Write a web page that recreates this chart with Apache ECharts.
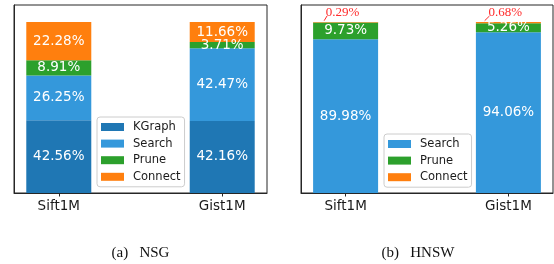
<!DOCTYPE html>
<html>
<head>
<meta charset="utf-8">
<script src="https://cdn.jsdelivr.net/npm/echarts@6/dist/echarts.min.js"></script>
<style>
html, body { margin: 0; padding: 0; background: #fff; }
#chart { width: 554px; height: 264px; }
</style>
</head>
<body>
<div id="chart"></div>
<script>
// data
var categories = ['Sift1M', 'Gist1M'];
var nsgKGraph = [42.56, 42.16];
var nsgSearch = [26.25, 42.47];
var nsgPrune = [8.91, 3.71];
var nsgConnect = [22.28, 11.66];
var hnswSearch = [89.98, 94.06];
var hnswPrune = [9.73, 5.26];
var hnswConnect = [0.29, 0.68];
var captions = ['(a)   NSG', '(b)   HNSW'];

var colors = {
    KGraph: '#1f77b4',
    Search: '#3498db',
    Prune: '#2ca02c',
    Connect: '#ff7f0e'
};

var SANS = 'DejaVu Sans';
var SERIF = 'Liberation Serif';

// value first so the stack runs along y; x (position) second
function pts(vals) {
    return vals.map(function (v, i) { return [v, i]; });
}

function pct(p) {
    return p.value[0].toFixed(2) + '%';
}

function barSeries(name, vals, gi, stack) {
    return {
        type: 'bar',
        name: name,
        xAxisIndex: gi,
        yAxisIndex: gi,
        stack: stack,
        barWidth: 65,
        encode: { x: 1, y: 0 },
        data: pts(vals),
        itemStyle: { color: colors[name] },
        label: {
            show: true,
            position: 'inside',
            color: '#fff',
            fontFamily: SANS,
            fontSize: 13.5,
            formatter: pct
        }
    };
}

// small red leader lines next to the tiny Connect labels (data space)
var leaderDx = [[-0.132, -0.114], [-0.146, -0.116]];
var leaderY = [100.8, 103.6];
var leaders = categories.map(function (c, i) {
    return [
        { coord: [i + leaderDx[i][0], leaderY[0]] },
        { coord: [i + leaderDx[i][1], leaderY[1]] }
    ];
});

var hnswConnectSeries = barSeries('Connect', hnswConnect, 1, 'hnsw');
hnswConnectSeries.label = {
    show: true,
    position: 'top',
    distance: 3,
    offset: [-3, 0],
    color: '#ff2a2a',
    fontFamily: SERIF,
    fontSize: 13,
    formatter: pct
};
hnswConnectSeries.markLine = {
    silent: true,
    symbol: ['none', 'none'],
    label: { show: false },
    lineStyle: { color: '#ff2a2a', width: 1, type: 'solid' },
    data: leaders
};

function xAxisFor(gi) {
    return {
        type: 'value',
        gridIndex: gi,
        min: -0.274,
        max: 1.274,
        splitLine: { show: false },
        axisLine: { show: true, onZero: false, lineStyle: { color: '#262626', width: 1 } },
        axisTick: { show: true, customValues: [0, 1], length: 3.5, lineStyle: { color: '#262626' } },
        axisLabel: {
            customValues: [0, 1],
            formatter: function (v) { return categories[Math.round(v)]; },
            color: '#1a1a1a',
            fontFamily: SANS,
            fontSize: 13.5,
            margin: 6
        }
    };
}

function yAxisFor(gi) {
    return {
        type: 'value',
        gridIndex: gi,
        min: 0,
        max: 110,
        splitLine: { show: false },
        axisLine: { show: true, onZero: false, lineStyle: { color: '#262626', width: 1 } },
        axisTick: { show: false },
        axisLabel: { show: false }
    };
}

function legendFor(names, left, top) {
    return {
        data: names,
        orient: 'vertical',
        left: left,
        top: top,
        icon: 'rect',
        itemWidth: 23,
        itemHeight: 8,
        itemGap: 4.6,
        padding: 4,
        backgroundColor: 'rgba(255,255,255,0.8)',
        borderColor: '#cccccc',
        borderWidth: 1,
        borderRadius: 3,
        textStyle: {
            fontFamily: SANS,
            fontSize: 11.5,
            lineHeight: 12,
            color: '#1a1a1a',
            padding: [0, 0, 0, 4]
        }
    };
}

var chart = echarts.init(document.getElementById('chart'), null, { renderer: 'canvas' });

chart.setOption({
    animation: false,
    grid: [
        { left: 14, right: 287, top: 5, bottom: 71, show: true, borderColor: '#262626', borderWidth: 1 },
        { left: 301, right: 1, top: 5, bottom: 71, show: true, borderColor: '#262626', borderWidth: 1 }
    ],
    xAxis: [xAxisFor(0), xAxisFor(1)],
    yAxis: [yAxisFor(0), yAxisFor(1)],
    legend: [
        legendFor(['KGraph', 'Search', 'Prune', 'Connect'], 97, 117),
        legendFor(['Search', 'Prune', 'Connect'], 384, 134)
    ],
    graphic: [
        { type: 'text', x: 140.5, y: 253, style: { text: captions[0], font: '15px "' + SERIF + '"', fill: '#111', align: 'center', verticalAlign: 'middle' } },
        { type: 'text', x: 418, y: 253, style: { text: captions[1], font: '15px "' + SERIF + '"', fill: '#111', align: 'center', verticalAlign: 'middle' } }
    ],
    series: [
        barSeries('KGraph', nsgKGraph, 0, 'nsg'),
        barSeries('Search', nsgSearch, 0, 'nsg'),
        barSeries('Prune', nsgPrune, 0, 'nsg'),
        barSeries('Connect', nsgConnect, 0, 'nsg'),
        barSeries('Search', hnswSearch, 1, 'hnsw'),
        barSeries('Prune', hnswPrune, 1, 'hnsw'),
        hnswConnectSeries
    ]
});
</script>
</body>
</html>
